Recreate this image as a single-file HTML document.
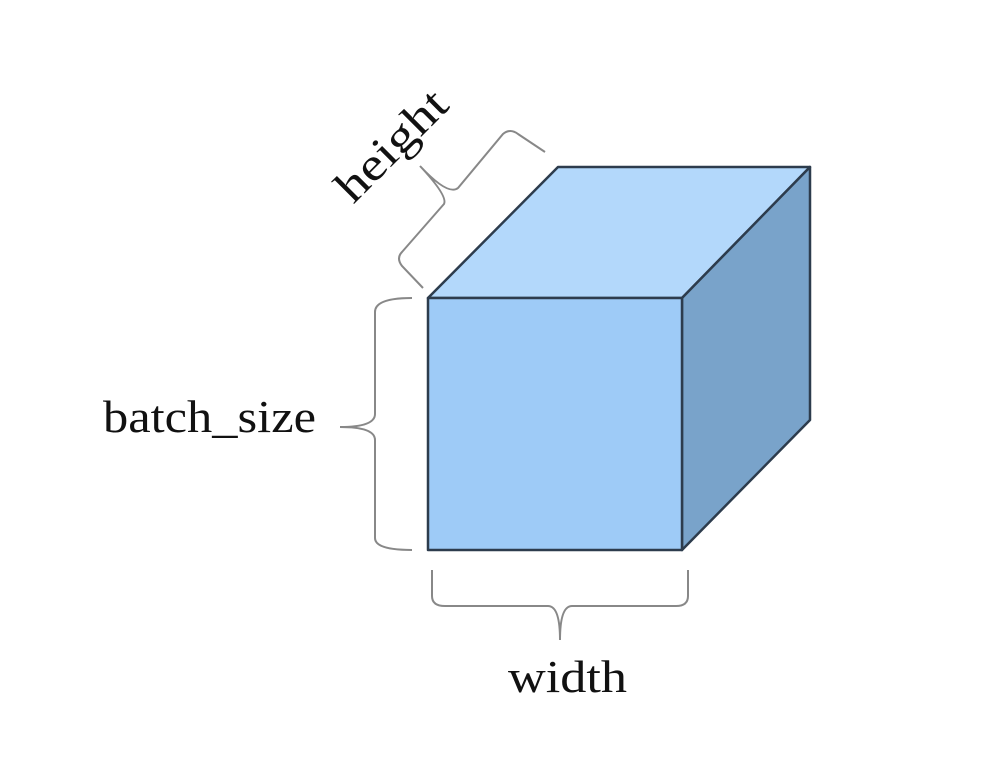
<!DOCTYPE html>
<html><head><meta charset="utf-8"><style>
html,body{margin:0;padding:0;background:#fff;}
svg{display:block;}
text{font-family:"Liberation Serif",serif;fill:#111;}
</style></head><body>
<svg width="996" height="763" viewBox="0 0 996 763">
<g stroke="#2d3c4d" stroke-width="2.5" stroke-linejoin="round">
<polygon points="428,298 558,167 810,167 682,298" fill="#b3d8fb"/>
<polygon points="682,298 810,167 810,420 682,550" fill="#79a3ca"/>
<polygon points="428,298 682,298 682,550 428,550" fill="#9ecbf7"/>
</g>
<g fill="none" stroke="#888" stroke-width="2">
<path d="M412,298 Q375,298 375,312 L375,414 Q375,427 340,427 Q375,427 375,440 L375,538 Q375,550 412,550"/>
<path d="M432,570 L432,596 Q432,606 445,606 L548,606 Q560,606 560,640 Q560,606 572,606 L676,606 Q688,606 688,596 L688,570"/>
<path d="M423,288 L402,266 Q396,258 402,252 L444,204 Q448,196 420,166 Q448,196 458,188 L503,134 Q510,128 518,134 L545,152"/>
</g>
<text x="0" y="0" font-size="46" text-anchor="middle" textLength="138" lengthAdjust="spacingAndGlyphs" transform="translate(402,156) rotate(-45)">height</text>
<text x="103" y="432" font-size="46" textLength="213" lengthAdjust="spacingAndGlyphs">batch_size</text>
<text x="508" y="692" font-size="46" textLength="119" lengthAdjust="spacingAndGlyphs">width</text>
</svg>
</body></html>
